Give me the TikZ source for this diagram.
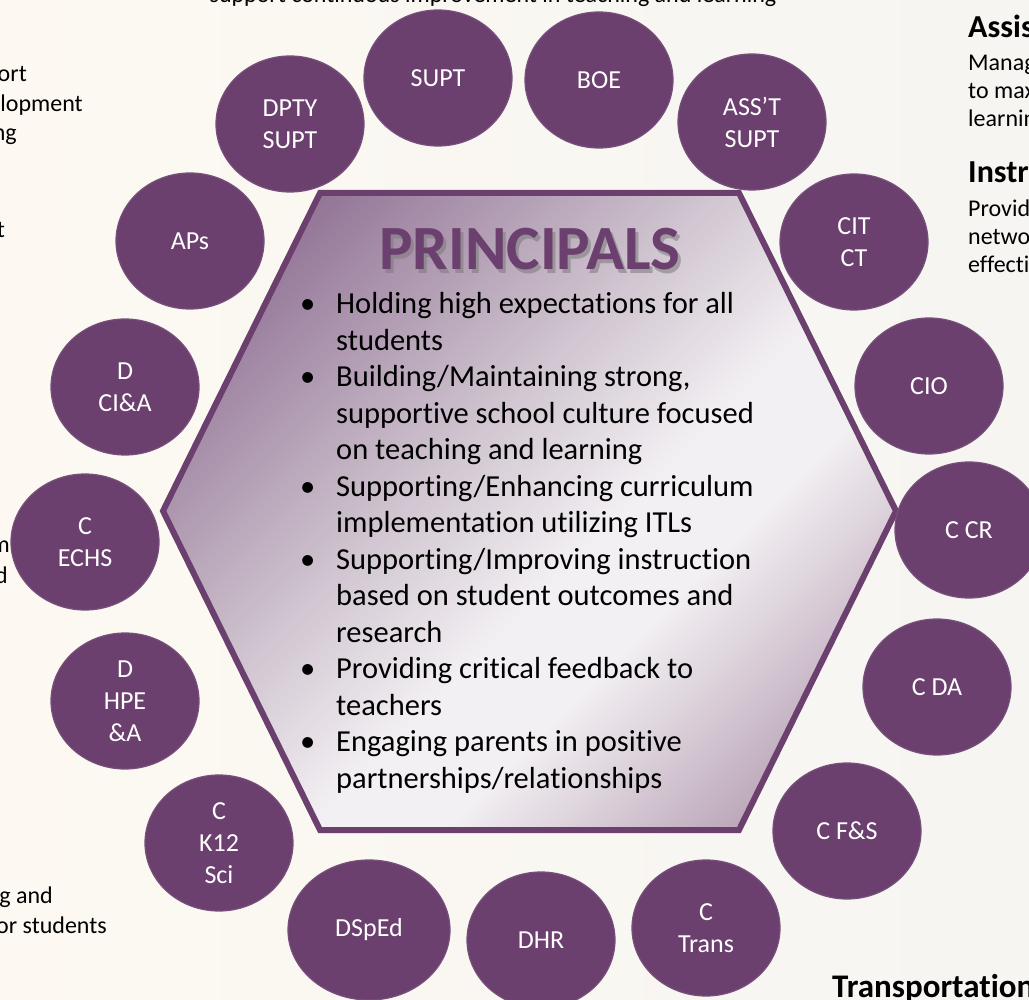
\documentclass[tikz,border=0pt]{standalone}
\usepackage{fontspec}
\setmainfont{Carlito}[Ligatures={NoCommon,NoRequired,NoContextual}]
\usetikzlibrary{shapes.geometric}
\definecolor{bgl}{HTML}{FDF9F2}
\definecolor{bgr}{HTML}{F6F5F2}
\definecolor{plum}{HTML}{6B406E}
\definecolor{plumedge}{HTML}{76507A}
\definecolor{hexdark}{HTML}{8E6E92}
\definecolor{hexgrey}{HTML}{CDC1CD}
\definecolor{hexlight}{HTML}{F3F0F3}
\definecolor{hexmid}{HTML}{A3879F}
\definecolor{shadowgrey}{HTML}{7A7A7A}
\pgfdeclarehorizontalshading{hexshade}{100bp}{color(0bp)=(hexdark); color(21bp)=(hexdark); color(42bp)=(hexgrey); color(55bp)=(hexlight); color(62bp)=(hexlight); color(84bp)=(hexmid); color(100bp)=(hexmid)}
\begin{document}
\begin{tikzpicture}[x=1pt,y=-1pt,
  org/.style={ellipse, draw=plumedge, line width=1.2pt, fill=plum,
    minimum width=148pt, minimum height=136pt, inner sep=0pt,
    text=white, font=\fontsize{26}{32}\selectfont, align=center},
  side/.style={inner sep=0pt, font=\fontsize{24}{28}\selectfont, text=black},
  sidehead/.style={inner sep=0pt, font=\fontsize{32}{38}\selectfont\bfseries, text=black},
  leftfrag/.style={inner sep=0pt, anchor=base east, font=\fontsize{24}{29}\selectfont, text=black},
]
\useasboundingbox (0,0) rectangle (1029,1000);
\shade[left color=bgl, right color=bgr] (0,0) rectangle (1029,1000);

% partial texts cut by the frame
\node[inner sep=0pt, anchor=base, font=\fontsize{24}{29}\selectfont] (toptext) at (493,3) {support continuous improvement in teaching and learning};
\node[leftfrag] (l1) at (27,82) {ort};
\node[leftfrag] (l2) at (83,112) {lopment};
\node[leftfrag] (l3) at (17,141) {ng};
\node[leftfrag] (l4) at (5,238) {t};
\node[leftfrag] (l5) at (10,552) {m};
\node[leftfrag] (l6) at (8,583) {d};
\node[leftfrag] (l7) at (53,903) {g and};
\node[leftfrag] (l8) at (107,933) {or students};
\node[sidehead, anchor=base west] (r0) at (968,38) {Assis};
\node[side, anchor=base west] (r1) at (968,71) {Manag};
\node[side, anchor=base west] (r2) at (968,99) {to max};
\node[side, anchor=base west] (r3) at (968,127) {learnin};
\node[sidehead, anchor=base west] (r4) at (968,183) {Instr};
\node[side, anchor=base west] (r5) at (968,217) {Provid};
\node[side, anchor=base west] (r6) at (968,245) {netwo};
\node[side, anchor=base west] (r7) at (968,273) {effecti};
\node[sidehead, anchor=base west, font=\fontsize{33}{40}\selectfont\bfseries] (r8) at (832,997) {Transportation};

% hexagon
\coordinate (h1) at (320,193);
\coordinate (h2) at (739,193);
\coordinate (h3) at (896,511);
\coordinate (h4) at (739,830);
\coordinate (h5) at (320,830);
\coordinate (h6) at (163,511);
\shade[shading=hexshade, shading angle=-45] (h1) -- (h2) -- (h3) -- (h4) -- (h5) -- (h6) -- cycle;
\draw[plum, line width=6pt, line join=miter] (h1) -- (h2) -- (h3) -- (h4) -- (h5) -- (h6) -- cycle;

\node[inner sep=0pt, anchor=base, font=\fontsize{63}{70}\selectfont\bfseries, text=shadowgrey, opacity=0.55] (tshadow) at (533,273.5) {PRINCIPALS};
\node[inner sep=0pt, anchor=base, font=\fontsize{63}{70}\selectfont\bfseries, text=plum] (title) at (530,270) {PRINCIPALS};

\node[inner sep=0pt, anchor=base west] (list) at (336,314) {%
\begin{minipage}[t]{470pt}\fontsize{30.5}{36.5}\selectfont\parindent=0pt\parskip=0pt\raggedright
\def\bul{\leavevmode\llap{\textbullet\hspace{21pt}}}%
\bul Holding high expectations for all\\students\par
\bul Building/Maintaining strong,\\supportive school culture focused\\on teaching and learning\par
\bul Supporting/Enhancing curriculum\\implementation utilizing ITLs\par
\bul Supporting/Improving instruction\\based on student outcomes and\\research\par
\bul Providing critical feedback to\\teachers\par
\bul Engaging parents in positive\\partnerships/relationships\par
\end{minipage}};

% circles
\node[org] (supt) at (438,78) {SUPT};
\node[org] (boe) at (599,80) {BOE};
\node[org] (asst) at (752,122) {ASS’T\\SUPT};
\node[org] (cit) at (854,242) {CIT\\CT};
\node[org] (cio) at (929,386) {CIO};
\node[org] (ccr) at (969,530) {C CR};
\node[org] (cda) at (937,687) {C DA};
\node[org] (cfs) at (847,831) {C F\&S};
\node[org] (ctrans) at (706,928) {C\\Trans};
\node[org] (dhr) at (541,940) {DHR};
\node[org, minimum width=162pt, minimum height=140pt] (dsped) at (369,930) {DSpEd};
\node[org] (ck12) at (219,843) {C\\K12\\Sci};
\node[org] (dhpe) at (125,701) {D\\HPE\\\&A};
\node[org] (cechs) at (85,542) {C\\ECHS};
\node[org] (dcia) at (125,387) {D\\CI\&A};
\node[org] (aps) at (190,241) {APs};
\node[org] (dpty) at (290,124) {DPTY\\SUPT};
\end{tikzpicture}
\end{document}
